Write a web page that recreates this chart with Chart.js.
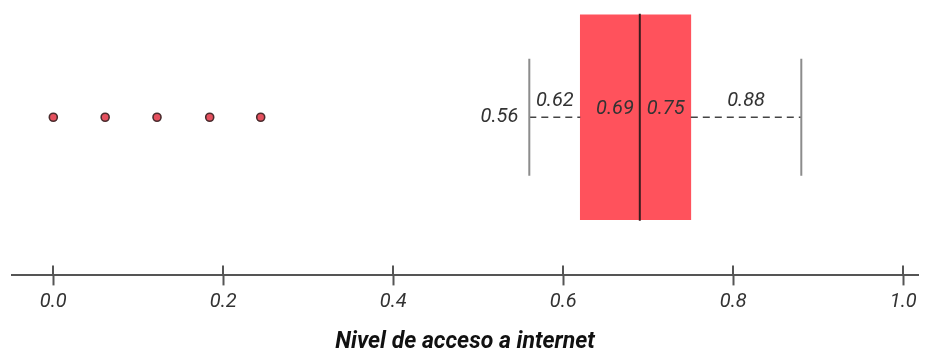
<!DOCTYPE html>
<html>
<head>
<meta charset="utf-8">
<script src="https://cdn.jsdelivr.net/npm/chart.js@4/dist/chart.umd.min.js"></script>
<style>
  html, body { margin: 0; padding: 0; background: #ffffff; }
  #wrap { width: 927px; height: 356px; }
</style>
</head>
<body>
<div id="wrap"><canvas id="c" width="927" height="356"></canvas></div>
<script>
// ---- data ----
const axisTitle = 'Nivel de acceso a internet';
const tickValues = [0, 0.2, 0.4, 0.6, 0.8, 1.0];
const tickLabels = ['0.0', '0.2', '0.4', '0.6', '0.8', '1.0'];
const statKeys = ['min', 'q1', 'median', 'q3', 'max'];
const statValues = [0.56, 0.62, 0.69, 0.75, 0.88];
const statLabels = ['0.56', '0.62', '0.69', '0.75', '0.88'];
const outlierValues = [0.0, 0.061, 0.122, 0.184, 0.244];

// ---- styling ----
const BOX_FILL = '#ff525c';
const MEDIAN_COLOR = '#3a1c1e';
const WHISKER_COLOR = '#8c8c8c';
const DASH_COLOR = '#444444';
const AXIS_COLOR = '#555555';
const TEXT_COLOR = '#333333';
const FONT = 'Roboto, "Open Sans", sans-serif';
const BOX_THICK = 205;      // px
const WHISKER_HALF = 58;    // y units (about 1 unit = 1 px)
const TICK_HALF = 10;

const stat = {};
statKeys.forEach((k, i) => { stat[k] = statValues[i]; });

const line = (pts, color, width, dash) => ({
  type: 'line',
  data: pts,
  borderColor: color,
  borderWidth: width,
  borderDash: dash || [],
  pointRadius: 0,
  fill: false,
  tension: 0
});

// value labels placed next to the box-plot marks
const statLabelPlugin = {
  id: 'statLabels',
  afterDatasetsDraw(chart) {
    const { ctx, scales: { x, y } } = chart;
    const cy = y.getPixelForValue(0);
    const px = k => x.getPixelForValue(stat[k]);
    const lab = k => statLabels[statKeys.indexOf(k)];
    ctx.save();
    ctx.font = 'italic 20px ' + FONT;
    ctx.fillStyle = TEXT_COLOR;
    ctx.textBaseline = 'middle';
    ctx.textAlign = 'right';
    ctx.fillText(lab('min'), px('min') - 11, cy);
    ctx.fillText(lab('median'), px('median') - 6, cy - 8);
    ctx.textAlign = 'left';
    ctx.fillText(lab('q3'), px('median') + 7, cy - 8);
    ctx.textAlign = 'center';
    ctx.fillText(lab('q1'), (px('min') + px('q1')) / 2, cy - 16);
    ctx.fillText(lab('max'), (px('q3') + px('max')) / 2, cy - 16);
    ctx.restore();
  }
};

// tick marks cross the axis line: draw the upper half
const crossTickPlugin = {
  id: 'crossTicks',
  afterDraw(chart) {
    const { ctx, scales: { x } } = chart;
    ctx.save();
    ctx.strokeStyle = AXIS_COLOR;
    ctx.lineWidth = 2;
    x.ticks.forEach(t => {
      const p = Math.round(x.getPixelForValue(t.value));
      ctx.beginPath();
      ctx.moveTo(p, x.top - TICK_HALF);
      ctx.lineTo(p, x.top);
      ctx.stroke();
    });
    ctx.restore();
  }
};

new Chart(document.getElementById('c'), {
  type: 'scatter',
  data: {
    datasets: [
      // median
      line([{ x: stat.median, y: -BOX_THICK / 2 }, { x: stat.median, y: BOX_THICK / 2 }], MEDIAN_COLOR, 2),
      // whiskers
      line([{ x: stat.min, y: -WHISKER_HALF }, { x: stat.min, y: WHISKER_HALF }], WHISKER_COLOR, 2),
      line([{ x: stat.max, y: -WHISKER_HALF }, { x: stat.max, y: WHISKER_HALF }], WHISKER_COLOR, 2),
      // dashed connectors
      line([{ x: stat.min, y: 0 }, { x: stat.q1, y: 0 }], DASH_COLOR, 1.6, [7, 5]),
      line([{ x: stat.q3, y: 0 }, { x: stat.max, y: 0 }], DASH_COLOR, 1.6, [7, 5]),
      // outliers
      {
        type: 'scatter',
        data: outlierValues.map(v => ({ x: v, y: 0 })),
        pointRadius: 4,
        borderWidth: 1.6,
        backgroundColor: '#e5505e',
        borderColor: '#4a2c2e'
      },
      // interquartile box
      {
        type: 'bar',
        indexAxis: 'y',
        data: [{ y: 0, x: [stat.q1, stat.q3] }],
        backgroundColor: BOX_FILL,
        borderWidth: 0,
        barThickness: BOX_THICK,
        grouped: false
      }
    ]
  },
  options: {
    responsive: false,
    animation: false,
    events: [],
    layout: { padding: { left: 12, right: 9, top: 0, bottom: 0 } },
    plugins: { legend: { display: false }, tooltip: { enabled: false } },
    scales: {
      x: {
        type: 'linear',
        position: 'bottom',
        min: -0.0486,
        max: 1.0173,
        afterBuildTicks: s => { s.ticks = tickValues.map(v => ({ value: v })); },
        ticks: {
          callback: (v, i) => tickLabels[i],
          font: { family: FONT, size: 20, style: 'italic' },
          color: TEXT_COLOR,
          padding: 5,
          maxRotation: 0,
          autoSkip: false
        },
        grid: {
          drawOnChartArea: false,
          drawTicks: true,
          tickLength: TICK_HALF,
          tickColor: AXIS_COLOR,
          tickWidth: 2
        },
        border: { display: true, color: AXIS_COLOR, width: 2 },
        title: {
          display: true,
          text: axisTitle,
          color: '#111111',
          font: { family: FONT, size: 23, style: 'italic', weight: 'bold' },
          padding: { top: 9, bottom: 0 }
        }
      },
      y: {
        type: 'linear',
        display: false,
        offset: false,
        grid: { offset: false },
        min: -156.5,
        max: 110.5
      }
    }
  },
  plugins: [statLabelPlugin, crossTickPlugin]
});
</script>
</body>
</html>
